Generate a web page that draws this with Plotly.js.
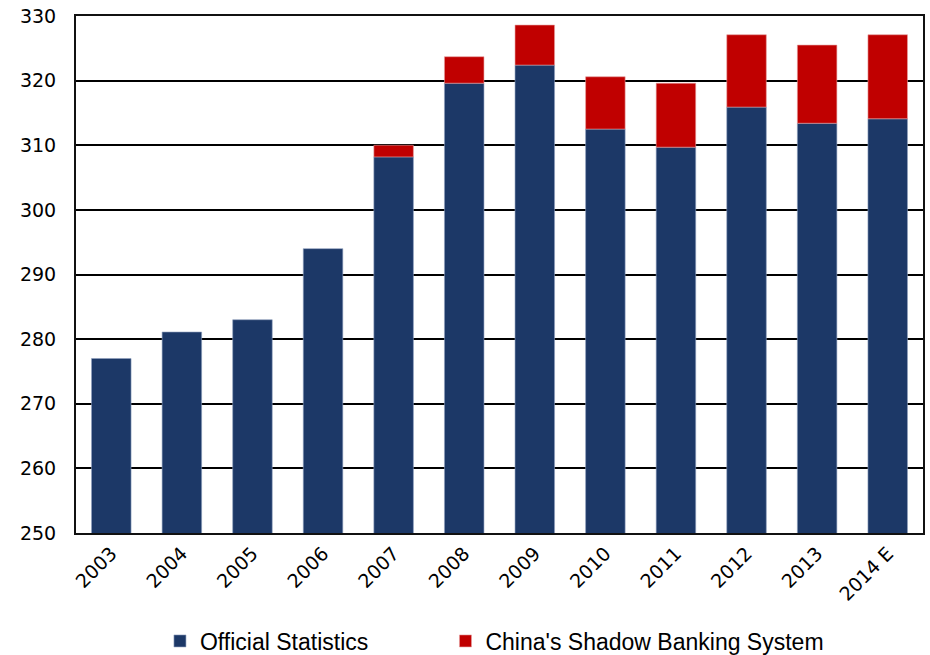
<!DOCTYPE html>
<html>
<head>
<meta charset="utf-8">
<script src="https://cdn.plot.ly/plotly-3.0.1.min.js"></script>
<style>
  html, body { margin: 0; padding: 0; background: #fff; }
  #chart { width: 930px; height: 655px; }
</style>
</head>
<body>
<div id="chart"></div>
<script>
// Years shown on the category axis
const years = ['2003', '2004', '2005', '2006', '2007', '2008', '2009', '2010', '2011', '2012', '2013', '2014 E'];
// Officially reported level
const officialStats = [277, 281.1, 283, 294, 308.2, 319.6, 322.4, 312.5, 309.7, 315.9, 313.4, 314.1];
// Additional amount attributed to the shadow banking system (none before 2007)
const shadowBanking = [null, null, null, null, 1.8, 4.1, 6.2, 8.1, 9.9, 11.2, 12.1, 13.0];

const tickFont = { size: 19, family: 'DejaVu Sans, Verdana, sans-serif', color: '#000' };
const legendFont = { size: 23, family: 'Liberation Sans, Arial, sans-serif', color: '#000' };

const traces = [
  {
    type: 'bar',
    name: 'Official Statistics',
    x: years,
    y: officialStats,
    marker: { color: '#1c3867', line: { color: '#8f9fbd', width: 0.6 } },
    legend: 'legend'
  },
  {
    type: 'bar',
    name: "China's Shadow Banking System",
    x: years,
    y: shadowBanking,
    base: officialStats,
    marker: { color: '#c00000', line: { color: '#e6a0a0', width: 0.6 } },
    legend: 'legend2'
  }
];

const layout = {
  width: 930,
  height: 655,
  margin: { l: 76, r: 7, t: 16, b: 122, autoexpand: false },
  paper_bgcolor: '#fff',
  plot_bgcolor: '#fff',
  barmode: 'overlay',
  bargap: 0.44,
  showlegend: true,
  font: { family: 'Liberation Sans, Arial, sans-serif', color: '#000' },
  xaxis: {
    type: 'category',
    tickangle: -45,
    tickfont: tickFont,
    showline: true,
    linecolor: '#111',
    linewidth: 2,
    mirror: true,
    ticks: '',
    showgrid: false,
    zeroline: false,
    automargin: false
  },
  yaxis: {
    range: [250, 330],
    dtick: 10,
    tickfont: tickFont,
    showline: true,
    linecolor: '#111',
    linewidth: 2,
    mirror: true,
    showgrid: true,
    gridcolor: '#000',
    gridwidth: 2,
    ticks: '',
    ticklabelstandoff: 14,
    zeroline: false,
    automargin: false
  },
  legend: {
    xref: 'container', yref: 'container',
    x: 0.172, xanchor: 'left',
    y: 0.0214, yanchor: 'middle',
    font: legendFont,
    bgcolor: 'rgba(0,0,0,0)'
  },
  legend2: {
    xref: 'container', yref: 'container',
    x: 0.479, xanchor: 'left',
    y: 0.0214, yanchor: 'middle',
    font: legendFont,
    bgcolor: 'rgba(0,0,0,0)'
  }
};

Plotly.newPlot('chart', traces, layout, { displayModeBar: false, staticPlot: true });
</script>
</body>
</html>
